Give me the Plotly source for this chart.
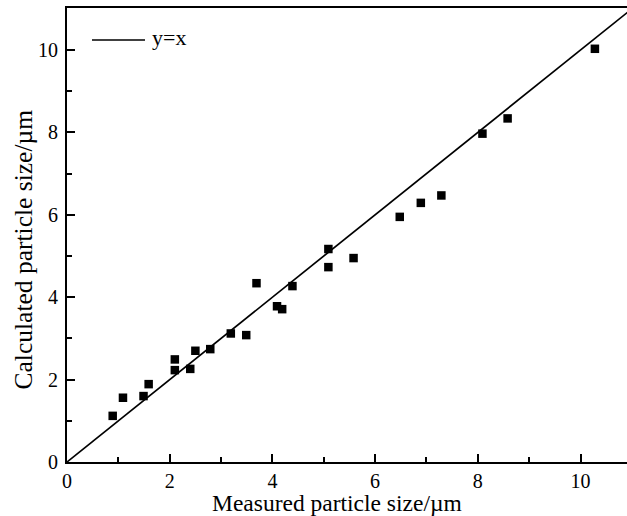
import plotly.graph_objects as go

measured = [0.89, 1.09, 1.49, 1.59, 2.10, 2.10, 2.40, 2.50, 2.79, 3.19, 3.49, 3.69,
            4.09, 4.19, 4.39, 5.09, 5.09, 5.58, 6.48, 6.89, 7.29, 8.09, 8.58, 10.28]
calculated = [1.12, 1.56, 1.60, 1.89, 2.49, 2.23, 2.26, 2.70, 2.74, 3.12, 3.08, 4.34,
              3.78, 3.71, 4.27, 5.17, 4.73, 4.95, 5.95, 6.29, 6.47, 7.97, 8.34, 10.03]
line_x = [0, 11]
line_y = [0, 11]

FONT = "Liberation Serif, Times New Roman, serif"

fig = go.Figure()
fig.add_trace(go.Scatter(x=line_x, y=line_y, mode="lines",
                         line=dict(color="black", width=1.7), name="y=x",
                         showlegend=False, cliponaxis=True))
fig.add_trace(go.Scatter(x=measured, y=calculated, mode="markers",
                         marker=dict(symbol="square", size=8.5, color="black",
                                     line=dict(width=0)),
                         showlegend=False))

# legend key
fig.add_shape(type="line", xref="paper", yref="paper",
              x0=(92 - 67) / 560, x1=(145 - 67) / 560,
              y0=(462 - 40) / 454, y1=(462 - 40) / 454,
              line=dict(color="black", width=1.7))
fig.add_annotation(text="y=x", xref="paper", yref="paper",
                   x=(150 - 67) / 560, y=(462 - 38) / 454,
                   xanchor="left", yanchor="middle", showarrow=False,
                   font=dict(family=FONT, size=22, color="black"))

# axis titles
fig.add_annotation(text="Measured particle size/µm", xref="paper", yref="paper",
                   x=(336.5 - 67) / 560, y=(462 - 503) / 454,
                   xanchor="center", yanchor="middle", showarrow=False,
                   font=dict(family=FONT, size=23.5, color="black"))
fig.add_annotation(text="Calculated particle size/µm", xref="paper", yref="paper",
                   x=(23 - 67) / 560, y=(462 - 249.5) / 454, textangle=-90,
                   xanchor="center", yanchor="middle", showarrow=False,
                   font=dict(family=FONT, size=25.5, color="black"))

axis_common = dict(
    showline=True, linecolor="black", linewidth=1.8,
    ticks="inside", ticklen=8, tickwidth=1.6, tickcolor="black",
    showgrid=False, zeroline=False,
    tickfont=dict(family=FONT, size=20, color="black"),
    dtick=2, tick0=0,
    minor=dict(ticks="inside", ticklen=5, tickwidth=1.6, tickcolor="black", dtick=1),
)

fig.update_layout(
    width=627, height=516,
    margin=dict(l=67, r=0, t=8, b=54),
    paper_bgcolor="white", plot_bgcolor="white",
    xaxis=dict(range=[0, 10.905], mirror=True, **axis_common),
    yaxis=dict(range=[0, 11.02], mirror=False, ticklabelstandoff=3, **axis_common),
)

fig.write_html("out.html")
